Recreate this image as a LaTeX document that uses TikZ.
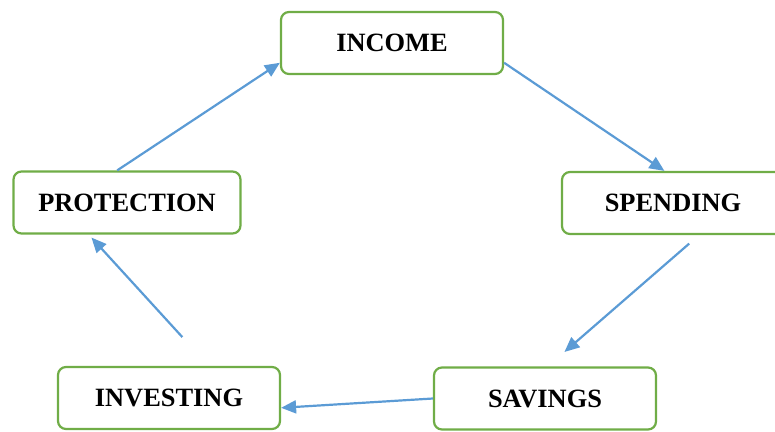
\documentclass[tikz,border=0pt]{standalone}
\usepackage{fontspec}
\setmainfont{Liberation Serif}
\usepackage{tikz}
\usetikzlibrary{arrows.meta,calc,positioning}
\definecolor{boxgreen}{HTML}{70AD47}
\definecolor{arrowblue}{HTML}{5B9BD5}

\begin{document}
\begin{tikzpicture}[x=1pt, y=-1pt,
  stage/.style={rectangle, rounded corners=8pt, draw=boxgreen, line width=2.2pt,
                fill=white, minimum width=222pt, minimum height=62pt,
                font=\fontsize{26.4}{30}\selectfont\bfseries},
  flow/.style={draw=arrowblue, line width=2.2pt,
               -{Triangle[length=15pt,width=13pt]}}]
\useasboundingbox (0,0) rectangle (775,431);
\node[stage] (income)     at (392,43)    {INCOME};
\node[stage] (spending)   at (673,203)   {SPENDING};
\node[stage] (savings)    at (545,398.5) {SAVINGS};
\node[stage] (investing)  at (169,398)   {INVESTING};
\node[stage, minimum width=227pt] (protection) at (127,202.5) {PROTECTION};
\draw[flow] (income.-10) -- (spending.105);
\draw[flow, shorten <=13pt, shorten >=22pt] (spending.-51) -- (savings.85);
\draw[flow] (savings.west) -- (investing.-5);
\draw[flow, shorten <=39pt, shorten >=4pt] (investing.39) -- (protection.220);
\draw[flow] (protection.107) -- (income.190);
\end{tikzpicture}
\end{document}
